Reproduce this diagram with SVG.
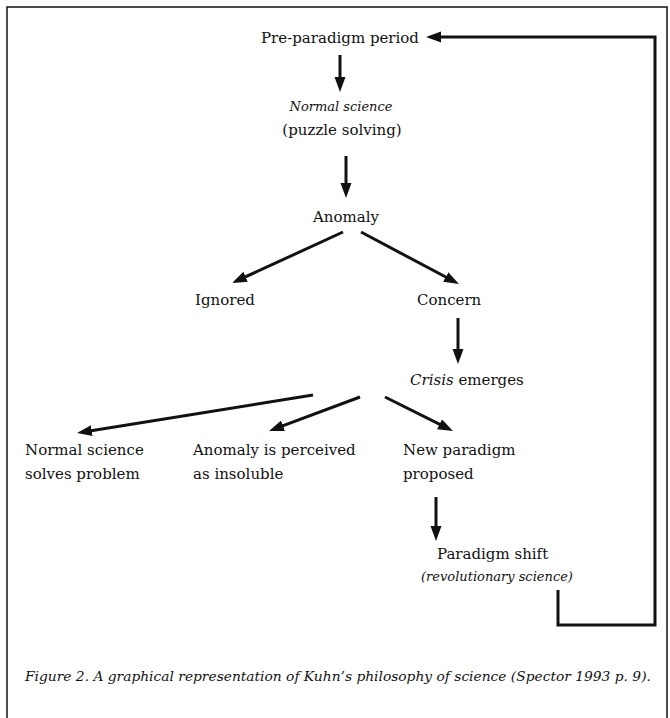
<svg xmlns="http://www.w3.org/2000/svg" width="670" height="718" viewBox="0 0 670 718">
<defs>
<style>
text{font-family:"DejaVu Serif","Liberation Serif",serif;font-size:15px;fill:#111}
.it{font-style:italic;font-size:13px}
.mid{text-anchor:middle}
.cap{font-style:italic;font-size:13.8px}
.conn{fill:none;stroke:#111;stroke-width:3;marker-end:url(#ah)}
.frame{fill:none;stroke:#111;stroke-width:1.5}
</style>
<marker id="ah" markerUnits="userSpaceOnUse" markerWidth="16" markerHeight="12" refX="7" refY="5.5" orient="auto">
<path d="M0,0 L15,5.5 L0,11 z" fill="#111"/>
</marker>
</defs>
<rect width="670" height="718" fill="#fff"/>
<path class="frame" d="M7,718 V7 H667 V718"/>
<g id="connectors">
<path class="conn" d="M340,55 V84"/>
<path class="conn" d="M346,156 V190"/>
<path class="conn" d="M343,232 L239.3,279.7"/>
<path class="conn" d="M361,232 L451.9,280.3"/>
<path class="conn" d="M458,318 V356"/>
<path class="conn" d="M313,395 L84.9,431.7"/>
<path class="conn" d="M360,397 L276.5,428.2"/>
<path class="conn" d="M385,397 L445.8,427.4"/>
<path class="conn" d="M436,497 V533"/>
<path class="conn" d="M558,590 V625 H655 V37 H434"/>
</g>
<g id="pre-paradigm"><text class="mid" x="340" y="43">Pre-paradigm period</text></g>
<g id="normal-science"><text class="mid it" x="341" y="111">Normal science</text><text class="mid" x="342" y="135">(puzzle solving)</text></g>
<g id="anomaly"><text class="mid" x="346" y="222">Anomaly</text></g>
<g id="ignored"><text x="195" y="305">Ignored</text></g>
<g id="concern"><text x="417" y="305">Concern</text></g>
<g id="crisis"><text x="410" y="385"><tspan font-style="italic">Crisis</tspan> emerges</text></g>
<g id="normal-solves"><text x="25" y="455">Normal science</text><text x="25" y="479">solves problem</text></g>
<g id="insoluble"><text x="193" y="455">Anomaly is perceived</text><text x="193" y="479">as insoluble</text></g>
<g id="new-paradigm"><text x="403" y="455">New paradigm</text><text x="403" y="479">proposed</text></g>
<g id="paradigm-shift"><text x="437" y="559">Paradigm shift</text><text class="it" x="421" y="581" font-size="12.3">(revolutionary science)</text></g>
<g id="caption"><text class="cap" x="25" y="681">Figure 2. A graphical representation of Kuhn’s philosophy of science (Spector 1993 p. 9).</text></g>
</svg>
